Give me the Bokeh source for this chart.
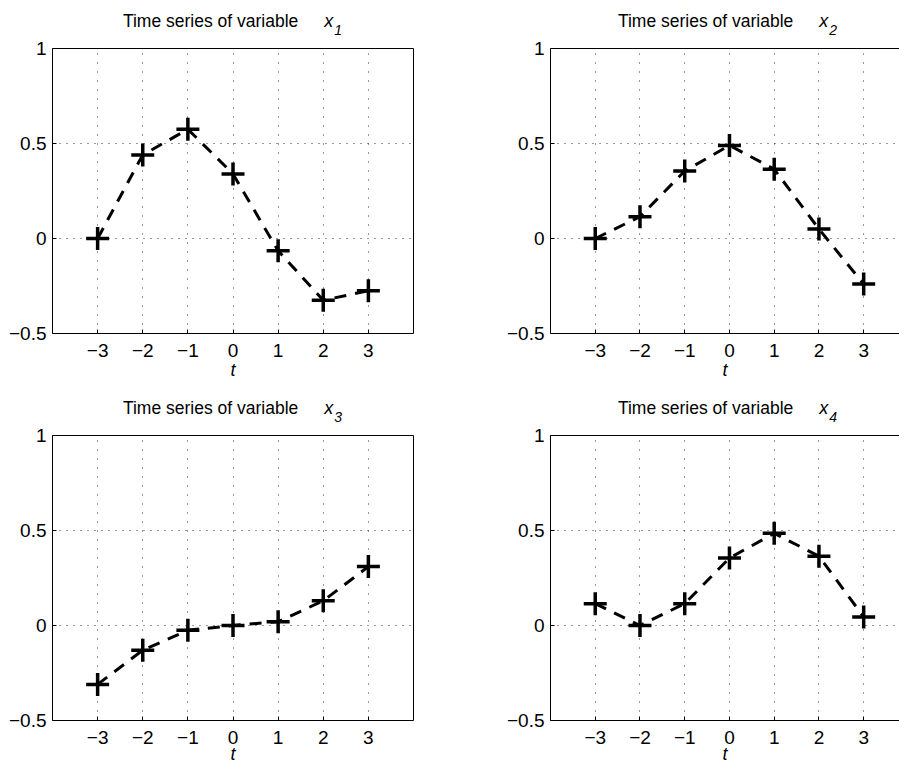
from bokeh.plotting import figure
from bokeh.layouts import column, row
from bokeh.models import FixedTicker, Range1d, Div, LinearAxis
from bokeh.embed import file_html
from bokeh.resources import INLINE

# ---- data ----
t = [-3, -2, -1, 0, 1, 2, 3]
x1 = [0.0, 0.44, 0.575, 0.34, -0.065, -0.325, -0.275]
x2 = [0.0, 0.115, 0.355, 0.49, 0.365, 0.05, -0.24]
x3 = [-0.31, -0.13, -0.025, 0.0, 0.02, 0.13, 0.31]
x4 = [0.115, 0.0, 0.115, 0.355, 0.485, 0.365, 0.045]
subscripts = ["1", "2", "3", "4"]
title_text = "Time series of variable"
axis_label_text = "t"
x_ticks = [-3, -2, -1, 0, 1, 2, 3]
x_tick_labels = ["\u22123", "\u22122", "\u22121", "0", "1", "2", "3"]
y_ticks = [-0.5, 0, 0.5, 1]
y_tick_labels = ["\u22120.5", "0", "0.5", "1"]

FONT = "Liberation Sans"
FRAME_W = 361
FRAME_H = 285
PXX = FRAME_W / 8.0
TITLE_H = 36
TOP_BORDER = 12


def title_div(sub, center, width):
    html = (
        f'<div style="width:{int(2 * center)}px;text-align:center;font-family:\'{FONT}\',Arial,sans-serif;'
        f'font-size:17.5px;line-height:20px;padding-top:11px;color:black;white-space:nowrap;">'
        f'{title_text}<span style="font-style:italic;margin-left:26px;font-size:18px;">x</span>'
        f'<span style="font-style:italic;font-size:14px;position:relative;top:8px;margin-left:1px;">{sub}</span>'
        f'</div>'
    )
    return Div(text=html, width=width, height=TITLE_H, margin=0)


def make(ys, sub, right, bottom):
    width = 396 if right else 503
    left_border = 44 if right else 52
    height = (346 if bottom else 351)
    bottom_border = height - TOP_BORDER - FRAME_H
    frame_w = (width - left_border) if right else FRAME_W
    x_end = -4 + frame_w / PXX
    p = figure(width=width, height=height, output_backend="svg", toolbar_location=None,
               x_range=Range1d(-4, x_end), y_range=Range1d(-0.5, 1),
               x_axis_location=None, y_axis_location=None,
               min_border_left=left_border,
               min_border_right=0 if right else width - left_border - FRAME_W,
               min_border_top=TOP_BORDER, min_border_bottom=bottom_border,
               background_fill_color="white", border_fill_color="white")
    p.outline_line_color = None

    xticker = FixedTicker(ticks=x_ticks)
    yticker = FixedTicker(ticks=y_ticks)

    xa = LinearAxis(ticker=xticker, major_label_overrides=dict(zip(x_ticks, x_tick_labels)))
    ya = LinearAxis(ticker=yticker, major_label_overrides=dict(zip(y_ticks, y_tick_labels)))
    for ax in (xa, ya):
        ax.major_label_text_font = FONT
        ax.major_label_text_font_size = "19px"
        ax.major_label_text_color = "black"
        ax.axis_line_color = "black"
        ax.axis_line_width = 1
        ax.major_tick_in = 4
        ax.major_tick_out = 0
        ax.major_tick_line_color = "black"
        ax.minor_tick_line_color = None
    xa.major_label_standoff = 10
    ya.major_label_standoff = 6
    xa.axis_label = axis_label_text
    xa.axis_label_text_font = FONT
    xa.axis_label_text_font_size = "18px"
    xa.axis_label_text_font_style = "italic"
    xa.axis_label_text_color = "black"
    xa.axis_label_standoff = -3 if bottom else 0
    p.add_layout(xa, "below")
    p.add_layout(ya, "left")

    # plain box lines (top, and right where the reference shows it)
    sides = ["above"] if right else ["above", "right"]
    for side in sides:
        bx = LinearAxis(ticker=FixedTicker(ticks=[]), axis_line_color="black", axis_line_width=1,
                        major_tick_line_color=None, minor_tick_line_color=None,
                        major_label_standoff=0)
        p.add_layout(bx, side)

    p.xgrid.ticker = xticker
    p.ygrid.ticker = yticker
    p.xgrid.grid_line_color = "#333333"
    p.xgrid.grid_line_dash = "1 8"
    p.xgrid.grid_line_width = 1
    p.ygrid.grid_line_color = "#333333"
    p.ygrid.grid_line_dash = "1 6"
    p.ygrid.grid_line_width = 1

    p.line(t, ys, line_color="black", line_width=3, line_dash="12 9")
    p.scatter(t, ys, marker="cross", size=23, line_color="black", line_width=3.5)

    center = left_border + FRAME_W / 2.0
    return column(title_div(sub, center, width), p, spacing=0)


panel1 = make(x1, subscripts[0], False, False)
panel2 = make(x2, subscripts[1], True, False)
panel3 = make(x3, subscripts[2], False, True)
panel4 = make(x4, subscripts[3], True, True)

layout = column(row(panel1, panel2, spacing=0), row(panel3, panel4, spacing=0), spacing=0)

open("out.html", "w").write(file_html(layout, INLINE))
